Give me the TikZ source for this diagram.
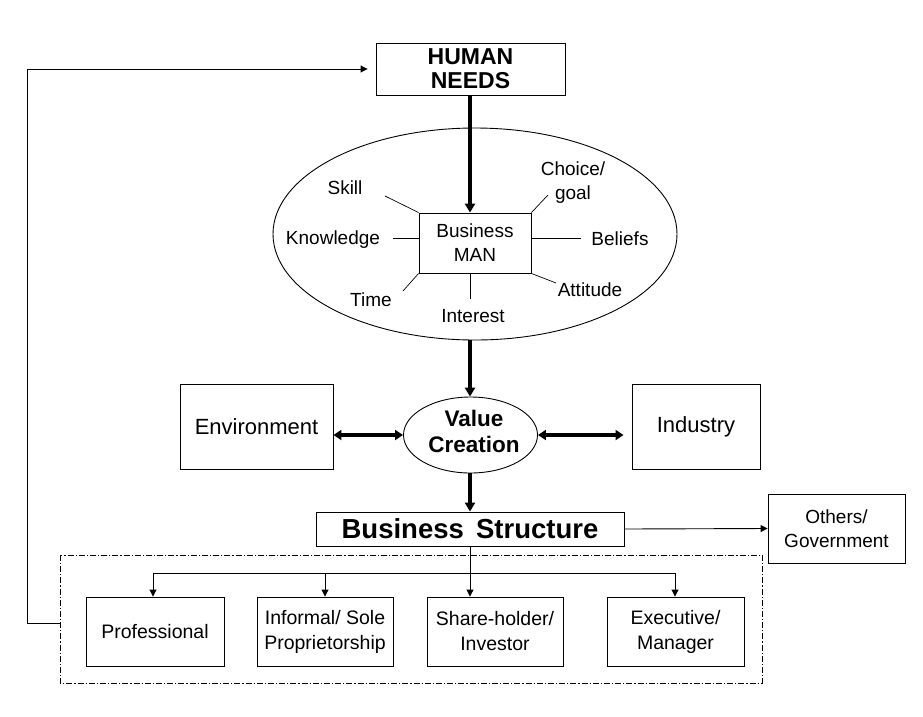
\documentclass[tikz,border=0pt]{standalone}
\usepackage{fontspec}
\setmainfont{Liberation Sans}
\usetikzlibrary{arrows.meta,shapes.geometric}
\begin{document}
\begin{tikzpicture}[x=1pt,y=-1pt,
  box/.style={draw,line width=0.9pt,inner sep=0pt},
  lbl/.style={inner sep=0pt,align=center,font=\fontsize{19}{24}\selectfont},
  spoke/.style={line width=0.7pt},
  thick arrow/.style={line width=3.2pt,-{Triangle[length=9pt,width=10pt]}},
  thick dbl/.style={line width=3.2pt,{Triangle[length=8pt,width=10pt]}-{Triangle[length=8pt,width=10pt]}},
  thin arrow/.style={line width=0.9pt,-{Triangle[length=7pt,width=7pt]}}]
\useasboundingbox (0,0) rectangle (923,716);
% human needs
\node[box,minimum width=189pt,minimum height=52pt,align=center,font=\fontsize{23}{24}\bfseries\selectfont] (hn) at (470.5,69) {HUMAN\\NEEDS};
% ellipse
\node[draw,ellipse,line width=0.9pt,minimum width=404pt,minimum height=212pt] (ell) at (475,234) {};
\node[box,minimum width=112pt,minimum height=60pt,align=center,font=\fontsize{19}{24}\selectfont] (bm) at (475,243) {Business\\MAN};
% labels
\node[lbl] (skill) at (345,188) {Skill};
\node[lbl] (know) at (333,240) {Knowledge};
\node[lbl] (choice) at (573,183) {Choice/\\goal};
\node[lbl] (bel) at (620,239) {Beliefs};
\node[lbl] (time) at (371,300) {Time};
\node[lbl] (int) at (473,316) {Interest};
\node[lbl] (att) at (590,290) {Attitude};
\coordinate (sk) at (385,196);
\coordinate (kn) at (393,238);
\coordinate (ch) at (548,195);
\coordinate (be) at (581,238);
\coordinate (ti) at (403,291);
\coordinate (in) at (470,299);
\coordinate (at) at (556,283);
\draw[spoke] (bm.north west) -- (sk);
\draw[spoke] (bm.west |- kn) -- (kn);
\draw[spoke] (bm.north east) -- (ch);
\draw[spoke] (bm.east |- be) -- (be);
\draw[spoke] (bm.south west) -- (ti);
\draw[spoke] (bm.south -| in) -- (in);
\draw[spoke] (bm.south east) -- (at);
% value creation
\node[draw,ellipse,line width=0.9pt,minimum width=134pt,minimum height=76pt,inner sep=0pt] (vc) at (470.5,435) {};
\node[inner sep=0pt,align=center,font=\fontsize{22.5}{26.5}\bfseries\selectfont] (vct) at (474,431.5) {Value\\Creation};
\node[box,minimum width=153pt,minimum height=85pt,font=\fontsize{22}{24}\selectfont] (env) at (256.5,426.5) {Environment};
\node[box,minimum width=128pt,minimum height=85pt,font=\fontsize{22}{24}\selectfont] (ind) at (696,426.5) {Industry};
\node[box,minimum width=308pt,minimum height=34pt,font=\fontsize{27.5}{28}\bfseries\selectfont] (bs) at (470,529) {Business\ \,Structure};
\node[box,minimum width=137pt,minimum height=69pt,align=center,font=\fontsize{19}{24}\selectfont] (oth) at (836.5,528.5) {Others/\\Government};
% dashed container
\draw[line width=0.7pt,dash pattern=on 6pt off 2pt on 1.2pt off 2pt] (60,555) rectangle (762,683);
\coordinate (fb) at (60,623);
% bottom boxes
\tikzset{bb/.style={box,minimum width=137pt,minimum height=69pt,align=center,font=\fontsize{19.5}{25}\selectfont}}
\node[bb,minimum width=138pt] (pro) at (155,631.5) {Professional};
\node[bb,minimum width=136pt] (inf) at (325,631.5) {Informal/ Sole\\Proprietorship};
\node[bb,minimum width=136pt] (sh) at (495,631.5) {Share-holder/\\Investor};
\node[bb] (exe) at (675.5,631.5) {Executive/\\Manager};
% connectors
\draw[thick arrow] (hn.south -| 470,0) -- (bm.north -| 470,0);
\draw[thick arrow] (ell.south -| 470,0) -- (vc.north -| 470,0);
\draw[thick arrow] (vc.south -| 470,0) -- (bs.north -| 470,0);
\draw[thick dbl] (env.east |- vc.west) -- (vc.west);
\draw[thick dbl] (vc.east) -- ([xshift=-8pt]ind.west |- vc.east);
\draw[thin arrow] (bs.east) -- (oth.west);
\coordinate (hl) at (153,573);
\coordinate (hr) at (675,573);
\draw[line width=0.9pt] (hl) -- (hr);
\draw[thin arrow] (bs.south -| 470,0) -- (sh.north -| 470,0);
\draw[thin arrow] (hl) -- (pro.north -| hl);
\draw[thin arrow] (325,573) -- (inf.north);
\draw[thin arrow] (hr) -- (exe.north -| hr);
\draw[thin arrow] (fb) -- (27,623) -- (27,69) -- ([xshift=-8pt]hn.west);
\end{tikzpicture}
\end{document}
